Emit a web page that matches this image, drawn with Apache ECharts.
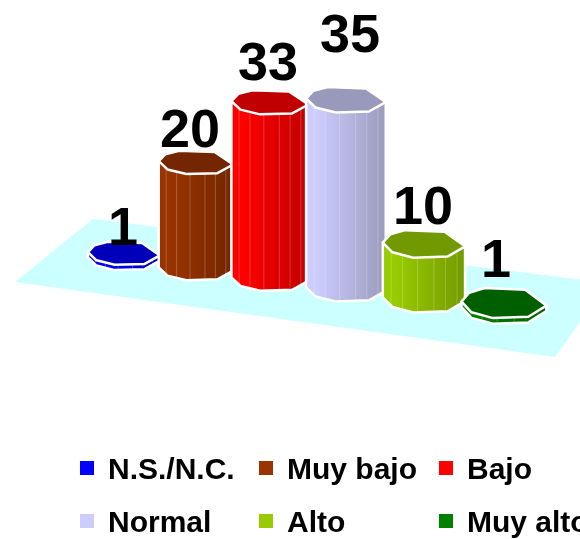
<!DOCTYPE html>
<html>
<head>
<meta charset="utf-8">
<style>html,body{margin:0;padding:0;background:#fff}#main{width:580px;height:539px}</style>
<script src="https://cdn.jsdelivr.net/npm/echarts@6/dist/echarts.min.js"></script>
</head>
<body>
<div id="main"></div>
<script>
// Survey responses per level
const categories = ['N.S./N.C.', 'Muy bajo', 'Bajo', 'Normal', 'Alto', 'Muy alto'];
const values = [1, 20, 33, 35, 10, 1];
const sideLight = ['#0000FF', '#993300', '#FF0000', '#CCCCFF', '#99CC00', '#008000'];
const sideDark = ['#0000BB', '#732600', '#C00000', '#9999BB', '#739900', '#006000'];
const topColors = ['#0000BB', '#732600', '#C00000', '#9999BB', '#739900', '#006000'];

// Drawing constants for the oblique octagonal columns
const FONT = '"Liberation Sans", Arial, sans-serif';
const FACET_ANGLES = [5, 55, 105, 140, 180, 215, 243, 300];
const FRONT_COUNT = 5; // the first five angles run along the visible front
const RIB_STOPS = [0.1, 0.24, 0.42, 0.62, 0.76, 0.9];
const LABEL_NUDGE = [[-1, -4], [-6, 3], [-2, 10], [4, 36], [-1, 8], [-8, 14]];
const BAND = 72;
const GRID_LEFT = 88;
const FLOOR = [[15, 282], [93, 219], [608, 283], [555, 357]];
// Square key with an empty point below it, so the key sits above the text's centre line
const KEY_ICON = 'path://M0 0H14V14H0ZM0 20H0.01V20Z';

// Turns a grid position into its place on the receding floor
function project(api, i, v) {
  const g = api.coord([i, v]);
  const base = api.coord([i, 0]);
  const d = (g[0] - (GRID_LEFT + BAND / 2)) / BAND;
  return {
    x: g[0] + 1.0 * d * (d - 1),
    y: base[1] + 10 * d - (base[1] - g[1]) * (1 + 0.002 * d * d),
    rx: 36 + 1.3 * d,
    ry: 12.3 + 0.15 * d * d
  };
}

function ring(p) {
  return FACET_ANGLES.map(function (deg) {
    const t = deg * Math.PI / 180;
    return [p.x + p.rx * Math.cos(t), p.y + p.ry * Math.sin(t) + 0.03 * p.rx * Math.cos(t)];
  });
}

function renderColumn(params, api) {
  const i = api.value(0);
  const v = api.value(1);
  const top = project(api, i, v);
  const base = project(api, i, 0);
  const topRing = ring(top);
  const baseRing = ring(base);

  const side = [topRing[0]].concat(baseRing.slice(0, FRONT_COUNT), [topRing[FRONT_COUNT - 1]]);
  const left = top.x - top.rx;
  const span = 2 * top.rx;
  const children = [{
    type: 'polygon',
    shape: { points: side },
    style: {
      fill: new echarts.graphic.LinearGradient(0, 0, 1, 0, [
        { offset: 0, color: sideLight[i] },
        { offset: 0.15, color: sideLight[i] },
        { offset: 1, color: sideDark[i] }
      ]),
      stroke: '#fff',
      lineWidth: 2.5,
      lineJoin: 'round'
    }
  }];

  RIB_STOPS.forEach(function (s) {
    const rx = left + s * span;
    const c = (rx - top.x) / top.rx;
    const n = Math.sqrt(Math.max(0, 1 - c * c));
    children.push({
      type: 'line',
      shape: { x1: rx, y1: top.y + top.ry * n, x2: rx, y2: base.y + base.ry * n - 2 },
      style: { stroke: 'rgba(255,255,255,0.22)', lineWidth: 1 }
    });
  });

  children.push({
    type: 'polygon',
    shape: { points: topRing },
    style: { fill: topColors[i], stroke: '#fff', lineWidth: 2.5, lineJoin: 'round' }
  });

  children.push({
    type: 'text',
    style: {
      text: String(v),
      x: top.x + LABEL_NUDGE[i][0],
      y: top.y - LABEL_NUDGE[i][1],
      align: 'center',
      verticalAlign: 'bottom',
      fill: '#000',
      font: 'bold 54px ' + FONT
    }
  });

  return { type: 'group', children: children };
}

const columnSeries = categories.map(function (name, i) {
  return {
    type: 'custom',
    name: name,
    z: 2 + i,
    itemStyle: { color: sideLight[i] },
    encode: { x: 0, y: 1 },
    data: [[i, values[i]]],
    renderItem: renderColumn
  };
});

// Three columns by two rows of legend keys
const legends = categories.map(function (name, i) {
  return {
    data: [{ name: name, icon: KEY_ICON }],
    left: [80, 259, 439][i % 3],
    top: [456, 509][Math.floor(i / 3)],
    itemWidth: 14,
    itemHeight: 20,
    itemGap: 0,
    padding: 0,
    selectedMode: false,
    textStyle: {
      color: '#000',
      fontFamily: FONT,
      fontWeight: 'bold',
      fontSize: 30,
      padding: [0, 0, 0, 9]
    }
  };
});

const chart = echarts.init(document.getElementById('main'));
chart.setOption({
  animation: false,
  backgroundColor: '#fff',
  grid: { left: GRID_LEFT, top: 46.5, width: BAND * categories.length, height: 212 },
  xAxis: { type: 'category', data: categories, show: false },
  yAxis: { type: 'value', min: 0, max: 40, show: false },
  legend: legends,
  graphic: [{
    type: 'polygon',
    silent: true,
    z: 0,
    shape: { points: FLOOR },
    style: { fill: '#CCFFFF' }
  }],
  series: columnSeries
});
</script>
</body>
</html>
